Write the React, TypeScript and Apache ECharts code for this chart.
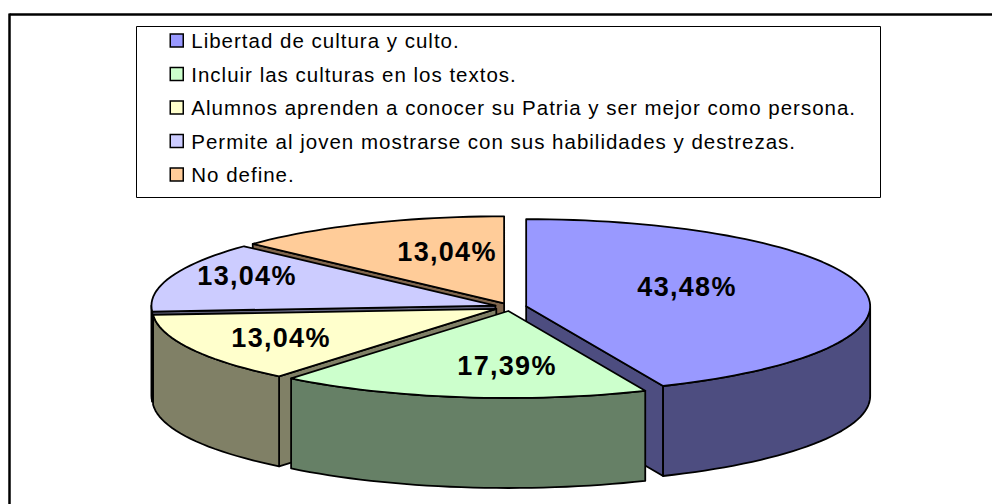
import React, { useEffect, useRef } from "react";
import * as echarts from "echarts";

const categories = [
  "Libertad de cultura y culto.",
  "Incluir las culturas en los textos.",
  "Alumnos aprenden a conocer su Patria y ser mejor como persona.",
  "Permite al joven mostrarse con sus habilidades y destrezas.",
  "No define.",
];
const values = [43.48, 17.39, 13.04, 13.04, 13.04];
const valueLabels = ["43,48%", "17,39%", "13,04%", "13,04%", "13,04%"];
const topColors = ["#9999FF", "#CCFFCC", "#FFFFCC", "#CCCCFF", "#FFCC99"];
const wallColors = ["#4D4D80", "#668066", "#808066", "#666680", "#80664D"];

// Layout of the 3D pie, in pixels
const CX = 510.5;
const CY = 307;
const RX = 344;
const RY = 87;
const DEPTH = 90;
const EXPLODE = 16;
const LABEL_CENTERS = [
  [687, 287],
  [507, 366],
  [281, 338],
  [247, 276],
  [447, 252],
];
const PAINT_ORDER = [4, 3, 2, 0, 1];

const FONT = "'Liberation Sans', Arial, sans-serif";
const total = values.reduce((a, b) => a + b, 0);

function sliceAngles(i: number) {
  let before = 0;
  for (let k = 0; k < i; k++) before += values[k];
  return [(before / total) * 360, ((before + values[i]) / total) * 360];
}

function rim(ax: number, ay: number, from: number, to: number) {
  const pts: number[][] = [];
  const steps = Math.max(2, Math.ceil((to - from) / 2));
  for (let s = 0; s <= steps; s++) {
    const a = ((from + ((to - from) * s) / steps) * Math.PI) / 180;
    pts.push([ax + RX * Math.sin(a), ay - RY * Math.cos(a)]);
  }
  return pts;
}

function makeRenderItem(i: number) {
  return () => {
    const [a0, a1] = sliceAngles(i);
    const mid = (((a0 + a1) / 2) * Math.PI) / 180;
    const ax = CX + EXPLODE * Math.sin(mid);
    const ay = CY - (EXPLODE * RY * Math.cos(mid)) / RX;
    const wall = { fill: wallColors[i], stroke: "#000", lineWidth: 1.8, lineJoin: "round" };
    const children: any[] = [];
    const face = (deg: number) => {
      const e = rim(ax, ay, deg, deg + 0.001)[0];
      children.push({
        type: "polygon",
        shape: { points: [[ax, ay], e, [e[0], e[1] + DEPTH], [ax, ay + DEPTH]] },
        style: wall,
      });
    };
    if (a0 > 180 && a0 < 360) face(a0);
    if (a1 > 0 && a1 < 180) face(a1);
    const r0 = Math.max(a0, 90);
    const r1 = Math.min(a1, 270);
    if (r1 > r0) {
      const arc = rim(ax, ay, r0, r1);
      const low = arc.map((p) => [p[0], p[1] + DEPTH]).reverse();
      children.push({ type: "polygon", shape: { points: arc.concat(low) }, style: wall });
    }
    children.push({
      type: "polygon",
      shape: { points: [[ax, ay], ...rim(ax, ay, a0, a1)] },
      style: { fill: topColors[i], stroke: "#000", lineWidth: 1.8, lineJoin: "round" },
    });
    children.push({
      type: "text",
      z2: 10,
      style: {
        x: LABEL_CENTERS[i][0],
        y: LABEL_CENTERS[i][1],
        text: valueLabels[i],
        fill: "#000",
        font: `bold 27px ${FONT}`,
        align: "center",
        verticalAlign: "middle",
      },
    });
    return { type: "group", children };
  };
}

// The reference's text is set with wider spacing than the font's own.
const TEXT_CSS = `
#pie-chart svg text { letter-spacing: 1px; }
#pie-chart svg text[style*="bold"] { letter-spacing: 1.3px; }
`;

export default function App() {
  const ref = useRef<HTMLDivElement>(null);
  useEffect(() => {
    if (!ref.current) return;
    const chart = echarts.init(ref.current, undefined, { renderer: "svg" });
    chart.setOption({
      animation: false,
      backgroundColor: "#fff",
      legend: {
        orient: "vertical",
        left: 169.5,
        top: 30,
        padding: 0,
        itemWidth: 13,
        itemHeight: 13,
        itemGap: 12.5,
        selectedMode: false,
        textStyle: {
          fontFamily: "Liberation Sans",
          fontSize: 20.5,
          color: "#000",
          padding: [0, 0, 0, 3],
          lineHeight: 20,
        },
        data: categories.map((name, i) => ({
          name,
          icon: "rect",
          itemStyle: { color: topColors[i], borderColor: "#000", borderWidth: 1.5 },
        })),
      },
      graphic: [
        {
          type: "line",
          shape: { x1: 9.5, y1: 14.5, x2: 992, y2: 14.5 },
          style: { stroke: "#000", lineWidth: 2.5 },
        },
        {
          type: "line",
          shape: { x1: 9.5, y1: 13.5, x2: 9.5, y2: 504 },
          style: { stroke: "#000", lineWidth: 2.5 },
        },
        {
          type: "rect",
          z: -1,
          shape: { x: 136.5, y: 26.5, width: 744, height: 171 },
          style: { fill: "#fff", stroke: "#000", lineWidth: 1 },
        },
      ],
      series: PAINT_ORDER.map((i) => ({
        type: "custom",
        name: categories[i],
        coordinateSystem: "none",
        silent: true,
        itemStyle: { color: topColors[i] },
        data: [[values[i]]],
        renderItem: makeRenderItem(i),
      })),
    });
    return () => chart.dispose();
  }, []);
  return (
    <>
      <style>{TEXT_CSS}</style>
      <div
        id="pie-chart"
        ref={ref}
        style={{ position: "fixed", left: 0, top: 0, width: 992, height: 504 }}
      />
    </>
  );
}
